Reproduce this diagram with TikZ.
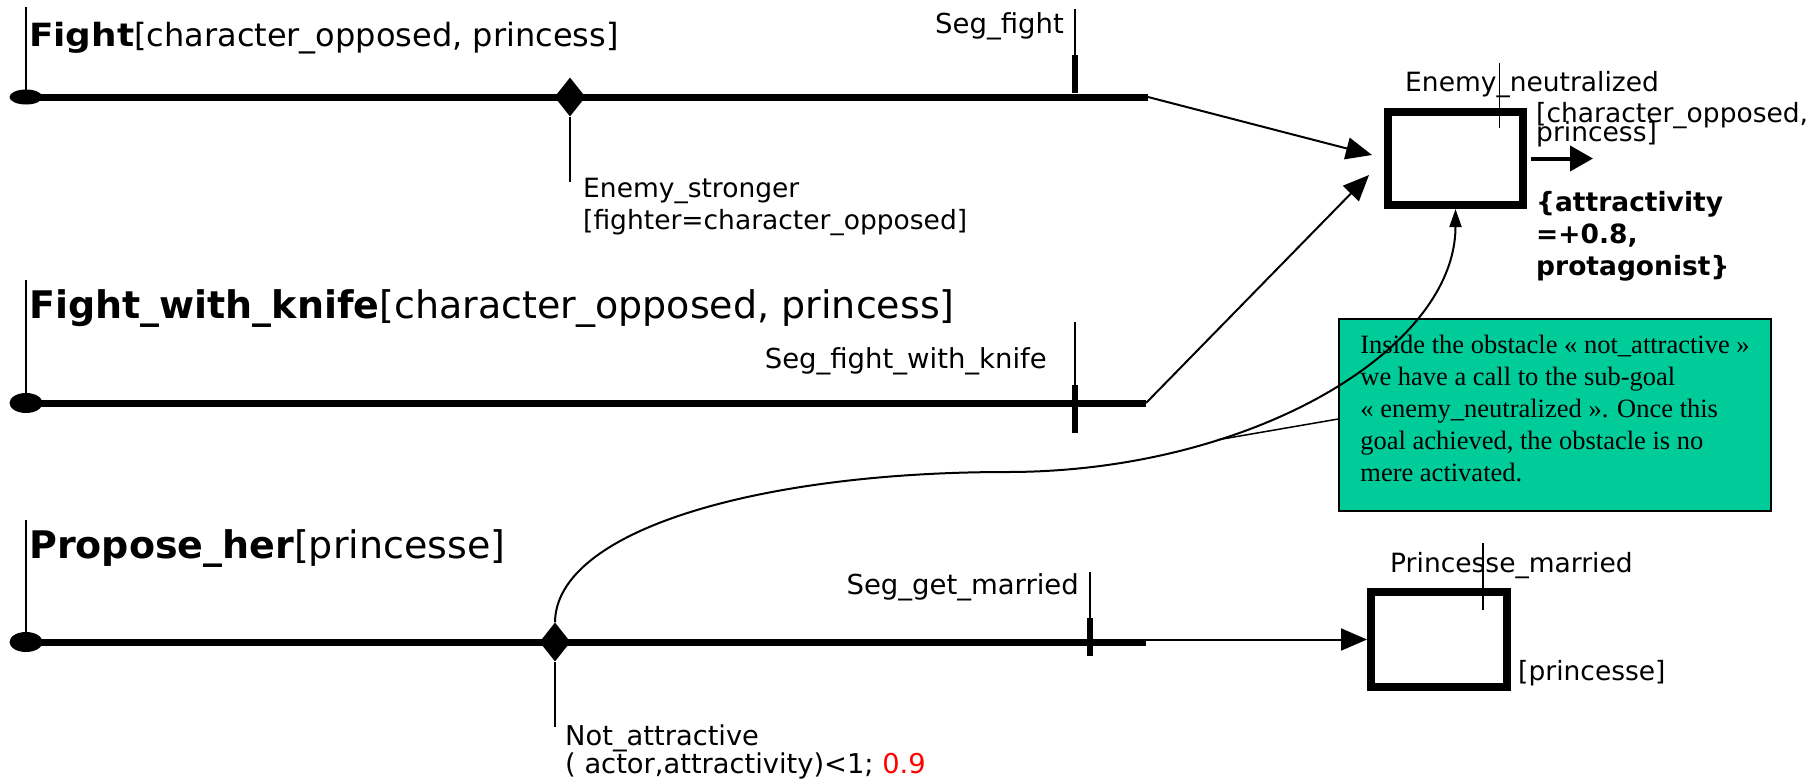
\documentclass[tikz,border=0pt]{standalone}
\usepackage{fontspec}
\setmainfont{DejaVu Sans}
\newfontfamily\notefont{Liberation Serif}
\usetikzlibrary{arrows.meta,shapes.geometric}
\definecolor{notegreen}{RGB}{0,204,153}

\begin{document}
\begin{tikzpicture}[x=1pt,y=-1pt,
  timeline/.style={line width=7pt},
  startdot/.style={ellipse, fill=black, inner sep=0pt, minimum width=33pt, minimum height=#1},
  startdot/.default=20pt,
  condmark/.style={diamond, fill=black, inner sep=0pt, minimum width=31pt, minimum height=39pt},
  hair/.style={line width=1.5pt},
  segtick/.style={line width=6pt},
  goalbox/.style={draw, line width=8pt, minimum width=135pt, minimum height=93pt, inner sep=0pt},
  link/.style={line width=2pt, -{Triangle[length=26pt,width=22pt]}},
  title/.style={anchor=base west, inner sep=0pt, font=\fontsize{38}{45}\selectfont},
  lbl/.style={anchor=base west, inner sep=0pt, font=\fontsize{26.5}{32}\selectfont},
  seglbl/.style={lbl, anchor=base east, font=\fontsize{27.5}{32}\selectfont},
  boldlbl/.style={lbl, font=\fontsize{26.5}{32}\selectfont\bfseries},
  note/.style={draw, line width=1.5pt, fill=notegreen, align=left,
    minimum width=432pt, minimum height=192pt, inner sep=0pt, text depth=14pt,
    font=\notefont\fontsize{26.5}{32}\selectfont}
]
\useasboundingbox (0,0) rectangle (1814,780);

% ---------- Fight ----------
\node[startdot=15pt] (s1) at (26,97) {};
\coordinate (e1) at (1148,97);
\draw[timeline] (s1.center) -- (e1);
\draw[hair] (s1.center) -- ++(0,-90);
\node[title, font=\fontsize{32}{38}\selectfont] (t1) at (29,46)
  {\scalebox{1.12}[1]{\textbf{Fight}}[character\_opposed, princess]};
\node[condmark] (c1) at (570,97) {};
\draw[hair] (c1.south) -- ++(0,65);
\node[lbl] (c1a) at (583,197) {Enemy\_stronger};
\node[lbl] (c1b) at (583,229) {[fighter=character\_opposed]};
\coordinate (g1) at (1075,97);
\draw[hair] (g1) ++(0,-88) -- ++(0,47);
\draw[segtick] (g1) ++(0,-42) -- ++(0,38);
\node[seglbl] (g1l) at (1064,33) {Seg\_fight};

% ---------- Fight_with_knife ----------
\node[startdot] (s2) at (26,403) {};
\coordinate (e2) at (1146,403);
\draw[timeline] (s2.center) -- (e2);
\draw[hair] (s2.center) -- ++(0,-123);
\node[title] (t2) at (29,318)
  {\textbf{Fight\_with\_knife}[character\_opposed, princess]};
\coordinate (g2) at (1075,403);
\draw[hair] (g2) ++(0,-81) -- ++(0,63);
\draw[segtick] (g2) ++(0,-18) -- ++(0,48);
\node[seglbl] (g2l) at (1047,368) {Seg\_fight\_with\_knife};

% ---------- Propose_her ----------
\node[startdot] (s3) at (26,642) {};
\coordinate (e3) at (1146,642);
\draw[timeline] (s3.center) -- (e3);
\draw[hair] (s3.center) -- ++(0,-122);
\node[title] (t3) at (29,558) {\textbf{Propose\_her}[princesse]};
\node[condmark] (c3) at (555,642) {};
\draw[hair] (c3.south) -- ++(0,65);
\node[lbl, font=\fontsize{27.3}{32}\selectfont] (c3a) at (565,745) {Not\_attractive};
\node[lbl, font=\fontsize{27.3}{32}\selectfont] (c3b) at (565,773)
  {( actor,attractivity)<1; \textcolor{red}{0.9}};
\coordinate (g3) at (1090,642);
\draw[hair] (g3) ++(0,-70) -- ++(0,46);
\draw[segtick] (g3) ++(0,-24) -- ++(0,38);
\node[seglbl] (g3l) at (1079,594) {Seg\_get\_married};

% ---------- goal: Enemy_neutralized ----------
\node[goalbox] (b1) at (1455.5,158.5) {};
\draw[hair] ([xshift=44pt]b1.north) ++(0,-45) -- ++(0,65);
\node[lbl] (b1n) at (1405,91) {Enemy\_neutralized};
\node[lbl] (b1p) at (1536,122) {[character\_opposed,};
\node[lbl] (b1q) at (1536,141) {princess]};
\draw[line width=4pt, -{Triangle[length=23pt,width=25pt]}] ([xshift=4pt]b1.east) -- ++(62,0);
\node[boldlbl] (b1x) at (1536,211) {\{attractivity};
\node[boldlbl] (b1y) at (1536,243) {=+0.8,};
\node[boldlbl] (b1z) at (1536,275) {protagonist\}};

% ---------- goal: Princesse_married ----------
\node[goalbox, minimum width=136pt, minimum height=95pt] (b2) at (1439,639.5) {};
\draw[hair] ([xshift=44pt]b2.north) ++(0,-45) -- ++(0,67);
\node[lbl] (b2n) at (1390,572) {Princesse\_married};
\node[lbl] (b2p) at (1518,680) {[princesse]};

% ---------- comment ----------
\node[note] (n) at (1555,415) {Inside the obstacle « not\_attractive »\\
we have a call to the sub-goal\\
« enemy\_neutralized ». Once this\\
goal achieved, the obstacle is no\\
mere activated.};

% ---------- connectors ----------
\draw[link] (e1) -- ([xshift=-12pt,yshift=3.5pt]b1.west);
\draw[link] (e2) -- ([xshift=-15pt,yshift=-16.5pt]b1.west);
\draw[link] (e3 |- b2.west) -- (b2.west);
\coordinate (bend) at (1007,472);
\draw[line width=2pt, -{Triangle[length=18pt,width=12pt]}]
  (c3.north) .. controls (556,530) and (760,472) .. (bend)
  .. controls (1250,472) and (1455.5,350) .. (b1.south) coordinate[pos=0.31] (hook);
\draw[line width=1.5pt] ([yshift=-4pt]n.west) -- (hook);
\end{tikzpicture}
\end{document}
